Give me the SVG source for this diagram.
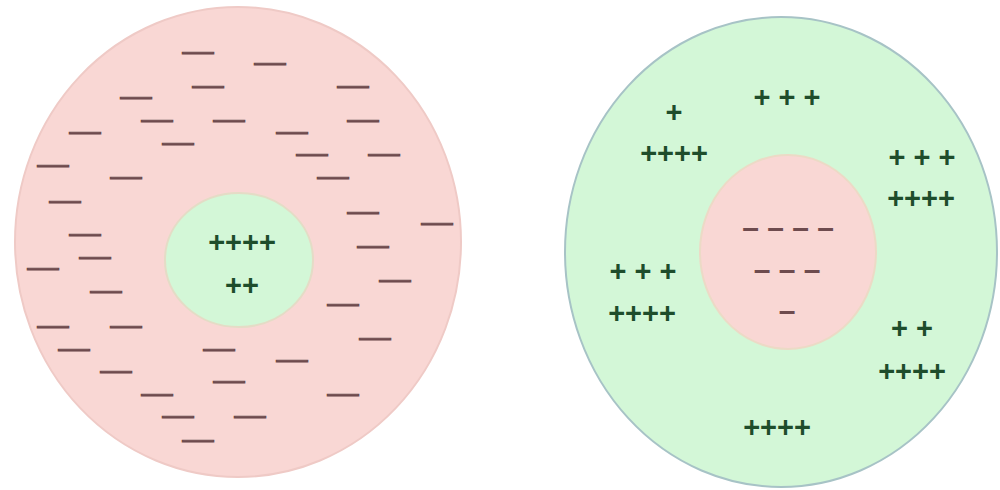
<svg xmlns="http://www.w3.org/2000/svg" width="1000" height="490" viewBox="0 0 1000 490">
<style>
.pink{fill:#f9d7d4}
.green{fill:#d3f7d7}
.m{font-family:"Liberation Sans",Arial,sans-serif;font-size:18px;font-weight:bold;fill:#6e4b4e;stroke:#6e4b4e;stroke-width:0.9px;text-anchor:middle}
.mi{font-family:"Liberation Sans",Arial,sans-serif;font-size:30px;font-weight:bold;fill:#6e4b4e;text-anchor:middle}
.p{font-family:"Liberation Sans",Arial,sans-serif;font-size:29px;font-weight:bold;fill:#1e4d2b;text-anchor:middle}
</style>
<rect width="1000" height="490" fill="#ffffff"/>
<g id="left-outer">
<ellipse class="pink" cx="238" cy="242" rx="223" ry="235" stroke="#efcac6" stroke-width="2"/>
<text class="m" textLength="31" lengthAdjust="spacingAndGlyphs" x="198" y="58">—</text>
<text class="m" textLength="31" lengthAdjust="spacingAndGlyphs" x="270" y="69">—</text>
<text class="m" textLength="31" lengthAdjust="spacingAndGlyphs" x="208" y="92">—</text>
<text class="m" textLength="31" lengthAdjust="spacingAndGlyphs" x="353" y="92">—</text>
<text class="m" textLength="31" lengthAdjust="spacingAndGlyphs" x="136" y="103">—</text>
<text class="m" textLength="31" lengthAdjust="spacingAndGlyphs" x="157" y="126">—</text>
<text class="m" textLength="31" lengthAdjust="spacingAndGlyphs" x="229" y="126">—</text>
<text class="m" textLength="31" lengthAdjust="spacingAndGlyphs" x="363" y="126">—</text>
<text class="m" textLength="31" lengthAdjust="spacingAndGlyphs" x="85" y="138">—</text>
<text class="m" textLength="31" lengthAdjust="spacingAndGlyphs" x="292" y="138">—</text>
<text class="m" textLength="31" lengthAdjust="spacingAndGlyphs" x="178" y="149">—</text>
<text class="m" textLength="31" lengthAdjust="spacingAndGlyphs" x="312" y="160">—</text>
<text class="m" textLength="31" lengthAdjust="spacingAndGlyphs" x="384" y="160">—</text>
<text class="m" textLength="31" lengthAdjust="spacingAndGlyphs" x="53" y="171">—</text>
<text class="m" textLength="31" lengthAdjust="spacingAndGlyphs" x="126" y="183">—</text>
<text class="m" textLength="31" lengthAdjust="spacingAndGlyphs" x="333" y="183">—</text>
<text class="m" textLength="31" lengthAdjust="spacingAndGlyphs" x="65" y="207">—</text>
<text class="m" textLength="31" lengthAdjust="spacingAndGlyphs" x="363" y="218">—</text>
<text class="m" textLength="31" lengthAdjust="spacingAndGlyphs" x="437" y="229">—</text>
<text class="m" textLength="31" lengthAdjust="spacingAndGlyphs" x="85" y="240">—</text>
<text class="m" textLength="31" lengthAdjust="spacingAndGlyphs" x="373" y="252">—</text>
<text class="m" textLength="31" lengthAdjust="spacingAndGlyphs" x="95" y="263">—</text>
<text class="m" textLength="31" lengthAdjust="spacingAndGlyphs" x="43" y="274">—</text>
<text class="m" textLength="31" lengthAdjust="spacingAndGlyphs" x="395" y="286">—</text>
<text class="m" textLength="31" lengthAdjust="spacingAndGlyphs" x="106" y="297">—</text>
<text class="m" textLength="31" lengthAdjust="spacingAndGlyphs" x="343" y="310">—</text>
<text class="m" textLength="31" lengthAdjust="spacingAndGlyphs" x="53" y="332">—</text>
<text class="m" textLength="31" lengthAdjust="spacingAndGlyphs" x="126" y="332">—</text>
<text class="m" textLength="31" lengthAdjust="spacingAndGlyphs" x="375" y="344">—</text>
<text class="m" textLength="31" lengthAdjust="spacingAndGlyphs" x="74" y="355">—</text>
<text class="m" textLength="31" lengthAdjust="spacingAndGlyphs" x="219" y="355">—</text>
<text class="m" textLength="31" lengthAdjust="spacingAndGlyphs" x="292" y="366">—</text>
<text class="m" textLength="31" lengthAdjust="spacingAndGlyphs" x="116" y="377">—</text>
<text class="m" textLength="31" lengthAdjust="spacingAndGlyphs" x="229" y="387">—</text>
<text class="m" textLength="31" lengthAdjust="spacingAndGlyphs" x="157" y="400">—</text>
<text class="m" textLength="31" lengthAdjust="spacingAndGlyphs" x="343" y="400">—</text>
<text class="m" textLength="31" lengthAdjust="spacingAndGlyphs" x="178" y="422">—</text>
<text class="m" textLength="31" lengthAdjust="spacingAndGlyphs" x="250" y="422">—</text>
<text class="m" textLength="31" lengthAdjust="spacingAndGlyphs" x="198" y="446">—</text>
</g>
<g id="left-inner">
<ellipse class="green" cx="239" cy="260" rx="74" ry="67" stroke="#e4dcc6" stroke-width="2"/>
<text class="p" x="242" y="252">++++</text>
<text class="p" x="242" y="295">++</text>
</g>
<g id="right-outer">
<ellipse class="green" cx="781" cy="252" rx="216" ry="235" stroke="#a7c3c6" stroke-width="2"/>
<text class="p" x="674" y="122">+</text>
<text class="p" x="787" y="107">+ + +</text>
<text class="p" x="674" y="163">++++</text>
<text class="p" x="922" y="167">+ + +</text>
<text class="p" x="921" y="208">++++</text>
<text class="p" x="643" y="281">+ + +</text>
<text class="p" x="642" y="323">++++</text>
<text class="p" x="912" y="338">+ +</text>
<text class="p" x="912" y="381">++++</text>
<text class="p" x="777" y="437">++++</text>
</g>
<g id="right-inner">
<ellipse class="pink" cx="788" cy="252" rx="88" ry="97" stroke="#ecdac6" stroke-width="2"/>
<text class="mi" x="788" y="238">– – – –</text>
<text class="mi" x="787" y="280">– – –</text>
<text class="mi" x="787" y="321">–</text>
</g>
</svg>
